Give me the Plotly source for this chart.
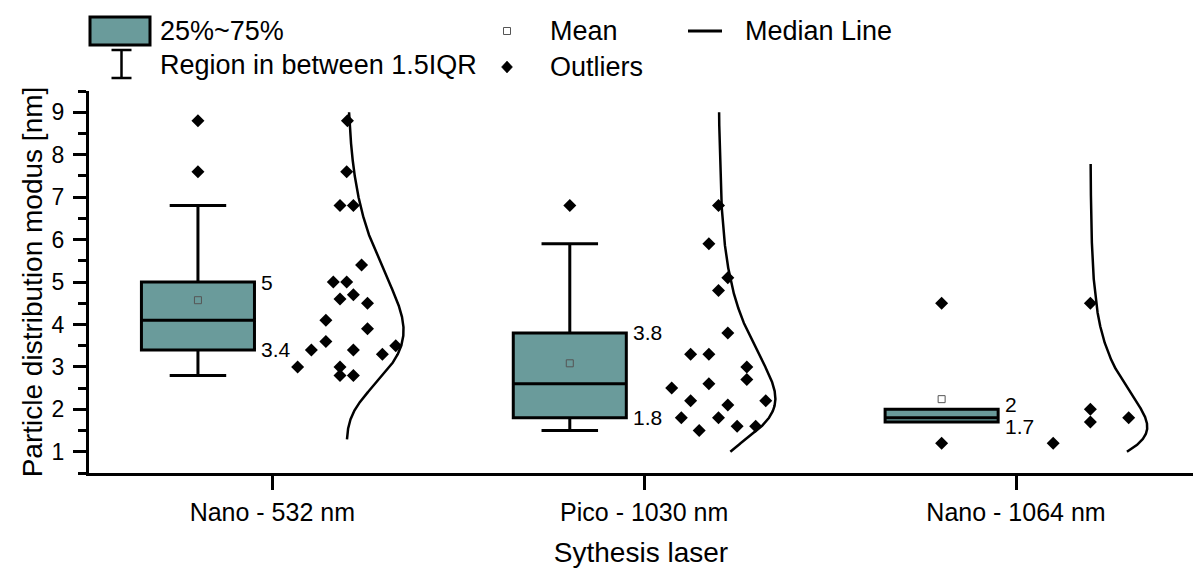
import numpy as np
import plotly.graph_objects as go

# ---------------- data ----------------
categories = ["Nano - 532 nm", "Pico - 1030 nm", "Nano - 1064 nm"]

nano532 = [8.8, 7.6, 6.8, 6.8, 5.4, 5.0, 5.0, 4.6, 4.7, 4.5, 4.1,
           3.9, 3.6, 3.4, 3.4, 3.3, 3.5, 3.0, 3.0, 2.8, 2.8]
nano532_jitter = [0.002, 0.0, -0.018, 0.018, 0.040, -0.036, 0.0, -0.018, 0.018, 0.056, -0.056,
                  0.056, -0.056, -0.095, 0.018, 0.096, 0.132, -0.132, -0.018, -0.018, 0.018]

pico1030 = [6.8, 5.9, 5.1, 4.8, 3.8, 3.3, 3.3, 3.0, 2.7, 2.6,
            2.5, 2.2, 2.1, 2.2, 1.8, 1.8, 1.5, 1.6, 1.6]
pico1030_jitter = [0.0, -0.026, 0.025, 0.0, 0.025, -0.075, -0.026, 0.076, 0.076, -0.026,
                   -0.126, -0.075, 0.025, 0.127, -0.10, 0.0, -0.052, 0.05, 0.10]

nano1064 = [4.5, 2.0, 1.7, 1.8, 1.2]
nano1064_jitter = [0.0, 0.0, 0.0, 0.103, -0.10]

groups = [nano532, pico1030, nano1064]
jitters = [nano532_jitter, pico1030_jitter, nano1064_jitter]

q1 = [3.4, 1.8, 1.7]
median = [4.1, 2.6, 1.8]
q3 = [5.0, 3.8, 2.0]
lowerfence = [2.8, 1.5, 1.7]
upperfence = [6.8, 5.9, 2.0]
outliers = [[8.8, 7.6], [6.8], [4.5, 1.2]]

# ---------------- style ----------------
FONT = "Liberation Sans, Arial, sans-serif"
TEAL = "#6A9B9B"
BOX_OFF = -0.2
DIST_OFF = 0.2
BOX_W = 0.304
CURVE_AMP = 0.153
LABEL_SIZE = 21

positions = np.arange(1, len(categories) + 1)
box_x = positions + BOX_OFF
dist_x = positions + DIST_OFF
means = [float(np.mean(g)) for g in groups]

L, T, W, H = 89, 91, 1104, 382
Y_RANGE = [0.5, 9.5]
PX_PER_UNIT = H / (Y_RANGE[1] - Y_RANGE[0])

fig = go.Figure()

# boxes (precomputed statistics)
fig.add_trace(go.Box(
    x=box_x, q1=q1, median=median, q3=q3,
    lowerfence=lowerfence, upperfence=upperfence,
    width=BOX_W, whiskerwidth=0.5, fillcolor=TEAL,
    line=dict(color="black", width=3), boxpoints=False,
    showlegend=False, hoverinfo="skip"))

# outliers above/below boxes
ox, oy = [], []
for bx, outs in zip(box_x, outliers):
    for o in outs:
        ox.append(bx); oy.append(o)
fig.add_trace(go.Scatter(x=ox, y=oy, mode="markers", showlegend=False,
                         marker=dict(symbol="diamond", size=10, color="black")))

# mean markers
fig.add_trace(go.Scatter(x=box_x, y=means, mode="markers", showlegend=False,
                         marker=dict(symbol="square-open", size=7, color="#555555",
                                     line=dict(width=1))))

# jittered data points
for dx, g, j in zip(dist_x, groups, jitters):
    fig.add_trace(go.Scatter(x=dx + np.array(j), y=g, mode="markers", showlegend=False,
                             marker=dict(symbol="diamond", size=10, color="black")))

# lognormal distribution curves
def lognorm_curve(vals, lo=1.0, hi=9.0, thresh=0.005):
    lv = np.log(np.asarray(vals, dtype=float))
    mu, s = lv.mean(), lv.std(ddof=1)
    yy = np.linspace(0.05, 20, 6000)
    pdf = np.exp(-((np.log(yy) - mu) / s) ** 2 / 2) / (yy * s * np.sqrt(2 * np.pi))
    r = pdf / pdf.max()
    m = (r >= thresh) & (yy >= lo) & (yy <= hi)
    return yy[m], r[m]

for dx, g in zip(dist_x, groups):
    yy, r = lognorm_curve(g)
    fig.add_trace(go.Scatter(x=dx + CURVE_AMP * r, y=yy, mode="lines", showlegend=False,
                             line=dict(color="black", width=2.5)))

# value labels at box edges (pushed apart slightly when the box is very thin)
for bx, a, b in zip(box_x, q3, q1):
    gap = (a - b) * PX_PER_UNIT
    push = max(0.0, (LABEL_SIZE + 1 - gap) / 2)
    for v, sh in ((a, push), (b, -push)):
        fig.add_annotation(x=bx + BOX_W / 2, y=v, text=f"{v:g}", showarrow=False,
                           xanchor="left", yanchor="middle", xshift=5, yshift=sh,
                           font=dict(family=FONT, size=LABEL_SIZE, color="black"))

# ---------------- manual legend ----------------
def px(x): return (x - L) / W
def py(y): return (T + H - y) / H

shapes = []
shapes.append(dict(type="rect", xref="paper", yref="paper",
                   x0=px(90), x1=px(150), y0=py(45), y1=py(17),
                   fillcolor=TEAL, line=dict(color="black", width=3)))
shapes.append(dict(type="line", xref="paper", yref="paper",
                   x0=px(121.5), x1=px(121.5), y0=py(50), y1=py(78),
                   line=dict(color="black", width=2.5)))
for yv in (50, 78):
    shapes.append(dict(type="line", xref="paper", yref="paper",
                       x0=px(111.5), x1=px(131.5), y0=py(yv), y1=py(yv),
                       line=dict(color="black", width=2.5)))
shapes.append(dict(type="rect", xref="paper", yref="paper",
                   x0=px(503.5), x1=px(510.5), y0=py(34.5), y1=py(27.5),
                   fillcolor="white", line=dict(color="#555555", width=1)))
dpath = "M {},{} L {},{} L {},{} L {},{} Z".format(
    px(507), py(61), px(512.5), py(67), px(507), py(73), px(501.5), py(67))
shapes.append(dict(type="path", xref="paper", yref="paper", path=dpath,
                   fillcolor="black", line=dict(color="black", width=0.5)))
shapes.append(dict(type="line", xref="paper", yref="paper",
                   x0=px(688), x1=px(722), y0=py(31), y1=py(31),
                   line=dict(color="black", width=3)))

legend_texts = [("25%~75%", 158, 31), ("Region in between 1.5IQR", 158, 65),
                ("Mean", 548, 31), ("Outliers", 548, 67), ("Median Line", 743, 31)]
for t, x, y in legend_texts:
    fig.add_annotation(x=px(x), y=py(y), xref="paper", yref="paper", text=t,
                       showarrow=False, xanchor="left", yanchor="middle",
                       font=dict(family=FONT, size=27, color="black"))

fig.update_layout(
    width=1193, height=572,
    margin=dict(l=L, r=0, t=T, b=572 - T - H),
    paper_bgcolor="white", plot_bgcolor="white",
    shapes=shapes, showlegend=False,
    font=dict(family=FONT, color="black"),
)
fig.update_xaxes(
    range=[0.507, 3.476], tickmode="array", tickvals=positions, ticktext=categories,
    ticks="outside", ticklen=14, tickwidth=2.5, tickcolor="black",
    showline=True, linewidth=3, linecolor="black", showgrid=False, zeroline=False,
    tickfont=dict(family=FONT, size=25), ticklabelstandoff=1,
    title=dict(text="Sythesis laser", font=dict(family=FONT, size=28), standoff=18),
    automargin=False,
)
fig.update_yaxes(
    range=Y_RANGE, tick0=1, dtick=1,
    ticks="outside", ticklen=13, tickwidth=2.5, tickcolor="black",
    minor=dict(dtick=0.5, ticks="outside", ticklen=8, tickwidth=2.5, tickcolor="black"),
    showline=True, linewidth=3, linecolor="black", showgrid=False, zeroline=False,
    tickfont=dict(family=FONT, size=23), ticklabelstandoff=4,
    title=dict(text="Particle distribution modus [nm]", font=dict(family=FONT, size=28), standoff=1),
    automargin=False,
)

fig.write_html("out.html")
